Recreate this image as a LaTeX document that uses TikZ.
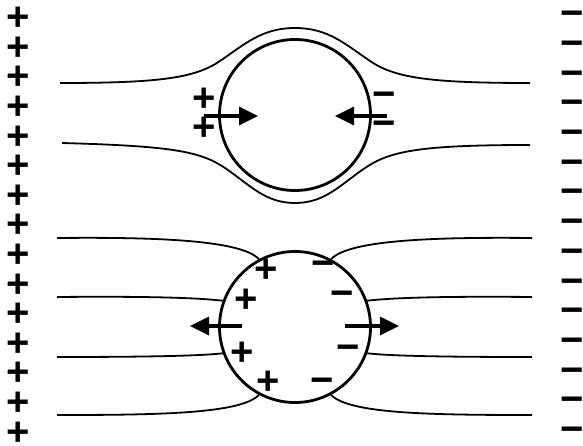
\documentclass[tikz,border=0pt]{standalone}
\usepackage{fontspec}
\setmainfont{Liberation Sans}
\usetikzlibrary{arrows.meta}

\begin{document}
\begin{tikzpicture}[x=1pt, y=-1pt, >={Triangle[length=19pt,width=18pt]},
    charge/.style={inner sep=0pt, font=\bfseries\fontsize{40}{40}\selectfont},
    field/.style={line width=1.8pt},
    ball/.style={circle, draw, line width=2.8pt, minimum size=151pt, inner sep=0pt},
    push/.style={->, line width=3.2pt}]
    \useasboundingbox (0,0) rectangle (583,446);

    % Plate charges
    \foreach \i in {0,...,14} {
        \node[charge] (plus\i) at (18, 19+29.6*\i) {+};
        \node[charge] (minus\i) at (572, 19+29.7*\i) {\symbol{"2212}};
    }

    % Upper sphere: field lines pass round it
    \node[ball] (upper) at (295,115) {};
    \draw[field] (60,83) .. controls (160,83) and (195,78) .. (220,61)
        .. controls (245,44) and (262,28) .. (295,28)
        .. controls (328,28) and (345,44) .. (370,61)
        .. controls (395,78) and (430,83) .. (530,83);
    \draw[field] (62,143) .. controls (170,146) and (200,151) .. (225,168)
        .. controls (250,185) and (265,203) .. (295,203)
        .. controls (325,203) and (340,185) .. (365,168)
        .. controls (390,151) and (420,145) .. (530,145);

    \node[charge] (up1) at (204,100) {+};
    \node[charge] (up2) at (204,129) {+};
    \node[charge] (un1) at (384,100) {\symbol{"2212}};
    \node[charge] (un2) at (384,129) {\symbol{"2212}};
    \coordinate (ua) at (204,116);
    \coordinate (ub) at (258,116);
    \coordinate (uc) at (387,116);
    \coordinate (ud) at (335,116);
    \draw[push] (ua) -- (ub);
    \draw[push] (uc) -- (ud);

    % Lower sphere: field lines end on it
    \node[ball] (lower) at (295,327) {};
    \coordinate (w1) at (57,238);
    \coordinate (w2) at (57,297);
    \coordinate (w3) at (57,357);
    \coordinate (w4) at (57,415);
    \coordinate (e1) at (532,238);
    \coordinate (e2) at (532,297);
    \coordinate (e3) at (532,357);
    \coordinate (e4) at (532,415);
    \draw[field] (w1) .. controls +(100,-1) and +(-18,-19) .. (lower.118);
    \draw[field] (w2) .. controls +(110,-1) and +(-18,-2) .. (lower.160);
    \draw[field] (w3) .. controls +(110,0) and +(-18,2) .. (lower.200);
    \draw[field] (w4) .. controls +(100,0) and +(-18,19) .. (lower.242);
    \draw[field] (e1) .. controls +(-100,-1) and +(18,-19) .. (lower.62);
    \draw[field] (e2) .. controls +(-110,-1) and +(18,-2) .. (lower.20);
    \draw[field] (e3) .. controls +(-110,0) and +(18,2) .. (lower.340);
    \draw[field] (e4) .. controls +(-100,0) and +(18,19) .. (lower.298);

    \node[charge] (lp1) at (266,271) {+};
    \node[charge] (lp2) at (246,301) {+};
    \node[charge] (lp3) at (242,354) {+};
    \node[charge] (lp4) at (268,383) {+};
    \node[charge] (ln1) at (323,269) {\symbol{"2212}};
    \node[charge] (ln2) at (342,299) {\symbol{"2212}};
    \node[charge] (ln3) at (348,353) {\symbol{"2212}};
    \node[charge] (ln4) at (322,386) {\symbol{"2212}};
    \coordinate (la) at (242,326);
    \coordinate (lb) at (190,326);
    \coordinate (lc) at (345,326);
    \coordinate (ld) at (399,326);
    \draw[push] (la) -- (lb);
    \draw[push] (lc) -- (ld);
\end{tikzpicture}
\end{document}
